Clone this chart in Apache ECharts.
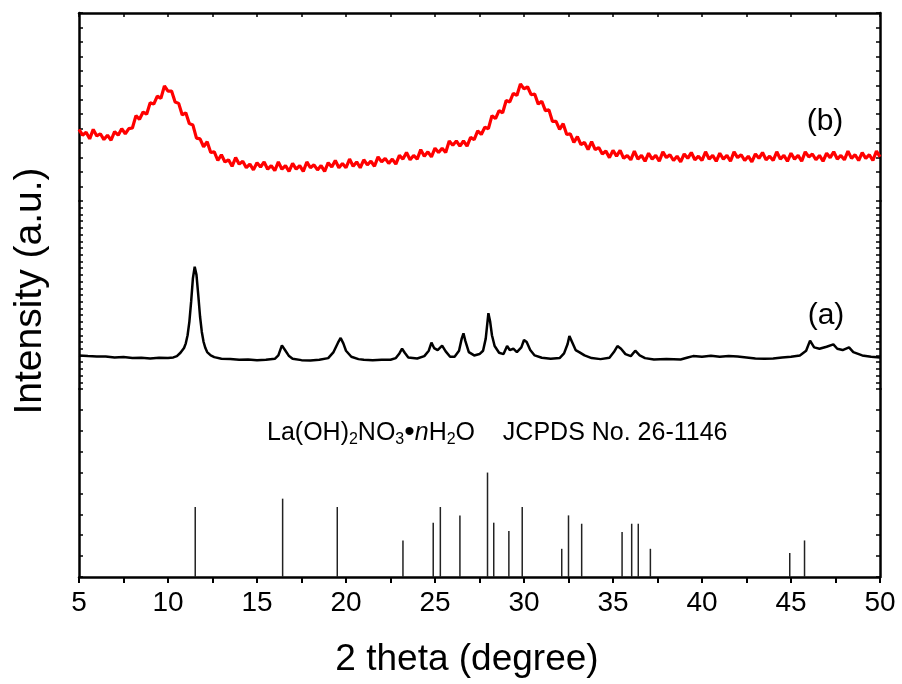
<!DOCTYPE html>
<html>
<head>
<meta charset="utf-8">
<script src="https://cdn.jsdelivr.net/npm/echarts@6/dist/echarts.min.js"></script>
<style>html,body{margin:0;padding:0;background:#fff}#c{width:902px;height:684px}</style>
</head>
<body>
<div id="c"></div>
<script>
// ---- data ----
const xTicks = [5, 10, 15, 20, 25, 30, 35, 40, 45, 50];
const xTitle = '2 theta (degree)';
const yTitle = 'Intensity (a.u.)';
const labelA = '(a)';
const labelB = '(b)';

// (b) amorphous product, scan from 5 to 50 deg, step 0.2 deg
const bStart = 5, bStep = 0.2;
const bValues = [
 49.5,45.5,47.5,43,49.5,45,46.5,42.5,45.5,42,48,45.5,50,46.5,50,50.5,59,56.5,61.5,60,
 68,67,72.5,71,79.5,76,76,68.5,67.5,59.5,61,53.5,52.5,43.5,43,37.5,41,33.5,34,28,
 32,27,28.5,24,30,25.5,27.5,23,25.5,21.5,26.5,23.5,27,22,24.5,21,27,22,24.5,20.5,
 26,22,24.5,20.5,27,23,25,21.5,24.5,20.5,26.5,23.5,28,23,26,23,29,24,27,23,
 28.5,25,27.5,24,30.5,27,29.5,26,29,25.5,31.5,29,33.5,28.5,31.5,29,35.5,31,34,30.5,
 36.5,33.5,36.5,33.5,41.5,38.5,41.5,38,41.5,38,44,42.5,48.5,46,51,50,59,57,62.5,61,
 69.5,68.5,74.5,73,81,77.5,79,73.5,74,67,69,62.5,63,55,55,49.5,53.5,46,46.5,40.5,
 44.5,39,40.5,35.5,41,35.5,37,32.5,34.5,30,35,31,35,29.5,31.5,28.5,34.5,29,31.5,27.5,
 33,29,31.5,27.5,34,30,32,28,31,27,32.5,29.5,33.5,28.5,31,28,34,29,31.5,27.5,
 33,29,31.5,27.5,34,30,32,28,31,27,32.5,29.5,33.5,28.5,31,28,34,29,31.5,27.5,
 33,29,31.5,27.5,34,30.5,32.5,28.5,31.5,27.5,33,30,34,29,31.5,28.5,34.5,29.5,32,28,
 33.5,29.5,32,28,34.5,30.5
];

// (a) La(OH)2NO3·nH2O pattern
const aX = [5,5.5,6,6.5,7,7.5,8,8.5,9,9.5,10,10.3,10.5,10.7,10.9,11,11.1,11.2,11.3,11.4,11.5,11.6,11.7,11.8,11.9,12,12.1,12.2,12.4,12.6,13,13.5,14,14.5,15,15.5,16,16.2,16.4,16.6,16.8,17,17.5,18,18.5,19,19.3,19.55,19.7,19.85,20,20.3,20.7,21,21.5,22,22.5,22.8,23,23.15,23.3,23.5,24,24.4,24.65,24.8,24.95,25.15,25.4,25.6,25.85,26.1,26.35,26.5,26.6,26.7,26.9,27.2,27.5,27.7,27.85,28,28.1,28.2,28.35,28.6,28.85,29.05,29.2,29.4,29.6,29.85,30,30.15,30.35,30.6,31,31.5,32,32.25,32.45,32.55,32.7,32.9,33.1,33.4,33.8,34.3,34.8,35.05,35.25,35.45,35.7,36,36.25,36.5,36.8,37.3,38,38.8,39.2,39.5,40,40.5,41,41.5,42,42.5,43,43.5,44,44.5,45,45.5,45.85,46.07,46.3,46.6,47,47.38,47.6,47.9,48.26,48.5,49,49.5,50];
const aY = [50,49,48.5,48.5,47,47.5,46,46.5,45.5,46.5,46,47,49,54,61,68,80,100,130,165,182,170,140,108,85,70,61,55,50,47.5,45,44.5,43.5,44,43,43.5,45,50,65,57,49,45,43,42.5,43.5,46,55,69,76,68,57,48,44.5,43.5,43,43.5,43.5,46,53,60,54,47,45.5,49,57,69,61,58,64.5,56,48,48,57,75,83,72,55,50,52,57,75,113,100,80,64,54,52,64,58,60,55,62,73,70,58,50,46.5,45,46,53,67,79,70,58,55,50,46,44.5,46.5,55,64,60,52,49,57,50,46,44,44.5,44,47,49,48,49.5,48,49,48.5,47,45.5,45,45.5,47,48,50,57,72,62,60,63,66.5,60,58,62,55,50,48,47];

// JCPDS No. 26-1146 reference lines
const refX = [11.53,16.44,19.51,23.2,24.9,25.3,26.4,27.95,28.3,29.15,29.9,32.12,32.5,33.24,35.51,36.05,36.42,37.1,44.93,45.76];
const refY = [67,75,67,35,52,67,59,100,52,44,67,27,59,51,43,51,51,27,23,35];

// ---- build ----
const bData = bValues.map((v, i) => [Math.round((bStart + i * bStep) * 10) / 10, v]);
const aData = aX.map((x, i) => [x, aY[i]]);
const refData = refX.map((x, i) => [x, refY[i]]);

const FONT = '"Liberation Sans", Arial, sans-serif';
const L = 79, R = 22, H = 188;
const gridTops = [13, 201, 389];

function yAxes(gi, max, interval) {
  const base = {
    gridIndex: gi, type: 'value', min: 0, max: max, interval: interval,
    axisLine: {show: true, lineStyle: {color: '#000', width: 2.5}},
    axisTick: {show: true, inside: true, length: 4, lineStyle: {color: '#000', width: 1.5}},
    axisLabel: {show: false}, splitLine: {show: false}
  };
  return [Object.assign({position: 'left'}, base), Object.assign({position: 'right'}, base)];
}

const chart = echarts.init(document.getElementById('c'), null, {renderer: 'canvas'});
chart.setOption({
  animation: false,
  backgroundColor: '#fff',
  grid: gridTops.map(t => ({left: L, right: R, top: t, height: H})),
  xAxis: [
    {gridIndex: 0, type: 'value', position: 'top', min: 5, max: 50, interval: 2.5,
     axisLine: {show: true, onZero: false, lineStyle: {color: '#000', width: 2.5}},
     axisTick: {show: true, inside: true, length: 4, lineStyle: {color: '#000', width: 1.5}},
     axisLabel: {show: false}, splitLine: {show: false}},
    {gridIndex: 1, type: 'value', min: 5, max: 50, show: false},
    {gridIndex: 2, type: 'value', position: 'bottom', min: 5, max: 50, interval: 5,
     axisLine: {show: true, onZero: false, lineStyle: {color: '#000', width: 2.5}},
     axisTick: {show: true, inside: false, length: 6, lineStyle: {color: '#000', width: 2}},
     minorTick: {show: true, splitNumber: 2, length: 6, lineStyle: {color: '#000', width: 2}},
     axisLabel: {show: true, margin: 12, color: '#000', fontSize: 28, fontFamily: FONT,
       formatter: v => (xTicks.indexOf(v) >= 0 ? String(v) : '')},
     splitLine: {show: false}}
  ],
  yAxis: [].concat(yAxes(0, 130, 10), yAxes(1, 280, 10), yAxes(2, 180, 20)),
  series: [
    {type: 'line', name: 'b', xAxisIndex: 0, yAxisIndex: 0, data: bData, showSymbol: false,
     lineStyle: {color: '#ff0000', width: 3.2}, itemStyle: {color: '#ff0000'}},
    {type: 'line', name: 'a', xAxisIndex: 1, yAxisIndex: 2, data: aData, showSymbol: false,
     lineStyle: {color: '#000', width: 2.5}, itemStyle: {color: '#000'}},
    {type: 'bar', name: 'JCPDS', xAxisIndex: 2, yAxisIndex: 4, data: refData, barWidth: 1.5,
     itemStyle: {color: '#222'}}
  ],
  graphic: [
    {type: 'text', x: 30, y: 291, rotation: Math.PI / 2,
     style: {text: yTitle, fill: '#000', font: '39px ' + FONT, textAlign: 'center', textVerticalAlign: 'middle'}},
    {type: 'text', x: 467, y: 660,
     style: {text: xTitle, fill: '#000', font: '37px ' + FONT, textAlign: 'center', textVerticalAlign: 'middle'}},
    {type: 'text', x: 825, y: 122,
     style: {text: labelB, fill: '#000', font: '30px ' + FONT, textAlign: 'center', textVerticalAlign: 'middle'}},
    {type: 'text', x: 826, y: 316,
     style: {text: labelA, fill: '#000', font: '30px ' + FONT, textAlign: 'center', textVerticalAlign: 'middle'}},
    {type: 'text', x: 267, y: 418,
     style: {
       text: '{n|La(OH)}{s|2}{n|NO}{s|3}{d|•}{i|n}{n|H}{s|2}{n|O    JCPDS No. 26-1146}',
       fill: '#000',
       rich: {
         n: {fontSize: 25, fontFamily: FONT, lineHeight: 30, fill: '#000'},
         s: {fontSize: 16, fontFamily: FONT, lineHeight: 12, verticalAlign: 'bottom', fill: '#000'},
         d: {fontSize: 30, fontFamily: FONT, lineHeight: 30, fill: '#000'},
         i: {fontSize: 25, fontFamily: FONT, fontStyle: 'italic', lineHeight: 30, fill: '#000'}
       }
     }}
  ]
});
</script>
</body>
</html>
